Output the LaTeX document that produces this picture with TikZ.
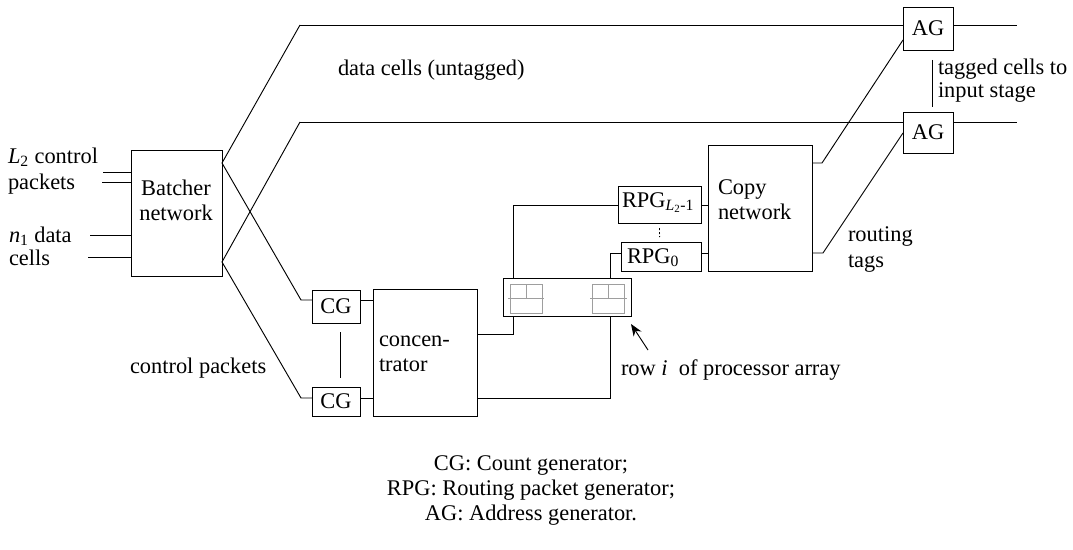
\documentclass[tikz,border=0pt]{standalone}
\usepackage{fontspec}
\setmainfont{Liberation Serif}
\usetikzlibrary{arrows.meta}
\begin{document}
\begin{tikzpicture}[x=0.75pt,y=-0.75pt,
  every node/.style={font=\fontsize{16.8}{18.75}\selectfont, inner sep=0pt, outer sep=0pt},
  box/.style={draw, line width=0.7pt, rectangle},
  lin/.style={line width=0.7pt},
  cell/.style={draw=black!38, line width=0.7pt},
  lbl/.style={anchor=base west}]
\useasboundingbox (0,0) rectangle (1073,549);

% boxes
\node[box, minimum width=68.25pt, minimum height=94.5pt] (bat) at (176.5,213) {};
\node[box, minimum width=36pt, minimum height=24.75pt] (cg1) at (336,306.5) {CG};
\node[box, minimum width=36pt, minimum height=21.75pt] (cg2) at (336,401.5) {CG};
\node[box, minimum width=78pt, minimum height=95.25pt] (conc) at (425,352.5) {};
\node[box, minimum width=96pt, minimum height=28.5pt] (proc) at (567,297) {};
\node[box, minimum width=62.25pt, minimum height=27.75pt] (rpgl) at (659.5,204.5) {};
\node[box, minimum width=60pt, minimum height=21.75pt] (rpg0) at (661,256.5) {};
\node[box, minimum width=78pt, minimum height=94.5pt] (copy) at (760,208) {};
\node[box, minimum width=37.5pt, minimum height=32.25pt] (ag1) at (928,28.5) {AG};
\node[box, minimum width=37.5pt, minimum height=30.75pt] (ag2) at (928,132.5) {AG};

% box texts
\node[align=center] (battxt) at (176,200) {Batcher\\network};
\node[align=left, anchor=west] (cctxt) at (379,354) {concen-\\trator};
\node[align=left, anchor=west] (cptxt) at (718,200) {Copy\\network};
\node[lbl] (rpgltxt) at (622,207) {RPG\textsubscript{\textit{L}\textsubscript{2}-1}};
\node[lbl] (rpg0txt) at (627,263) {RPG\textsubscript{0}};

% processor array cells
\draw[cell] (510,284) rectangle (542,313);
\draw[cell] (508,298) -- (544,298);
\draw[cell] (526,284) -- (526,298);
\draw[cell] (592,284) rectangle (624,313);
\draw[cell] (590,298) -- (627,298);
\draw[cell] (608,284) -- (608,298);

% helper coordinates
\coordinate (in1) at (103,172);
\coordinate (in2) at (102,182);
\coordinate (in3) at (90,235);
\coordinate (in4) at (88,257);
\coordinate (h1) at (0,163);
\coordinate (h2) at (0,262);
\coordinate (t1) at (300,25);
\coordinate (t2) at (300,122);
\coordinate (e1) at (1017,25);
\coordinate (e2) at (1017,122);
\coordinate (k1) at (301,300);
\coordinate (k2) at (301,398);
\coordinate (c1) at (513,334);
\coordinate (c2) at (610,398);
\coordinate (r1) at (513,205);
\coordinate (r2) at (610,253);
\coordinate (o1) at (822,163);
\coordinate (o2) at (823,253);
\coordinate (g1) at (0,40);
\coordinate (g2) at (0,133);
\coordinate (ar) at (648,350);

% inputs
\draw[lin] (in1) -- (in1 -| bat.west);
\draw[lin] (in2) -- (in2 -| bat.west);
\draw[lin] (in3) -- (in3 -| bat.west);
\draw[lin] (in4) -- (in4 -| bat.west);

% batcher outputs
\draw[lin] (t1) -- (bat.east |- h1) -- (k1) -- (k1 -| cg1.west);
\draw[lin] (t2) -- (bat.east |- h2) -- (k2) -- (k2 -| cg2.west);
\draw[lin] (t1) -- (t1 -| ag1.west);
\draw[lin] (ag1.east |- t1) -- (e1);
\draw[lin] (t2) -- (t2 -| ag2.west);
\draw[lin] (ag2.east |- t2) -- (e2);

% CG to concentrator
\draw[lin] (cg1.east |- k1) -- (k1 -| conc.west);
\draw[lin] (cg2.east |- k2) -- (k2 -| conc.west);
\draw[lin] ([xshift=3pt,yshift=-6.75pt]cg1.south) -- ([xshift=3pt,yshift=6.75pt]cg2.north);

% concentrator to processor row
\draw[lin] (conc.east |- c1) -- (c1) -- (c1 |- proc.south);
\draw[lin] (conc.east |- c2) -- (c2) -- (c2 |- proc.south);

% processor row to RPGs
\draw[lin] (r1 |- proc.north) -- (r1) -- (r1 -| rpgl.west);
\draw[lin] (r2 |- proc.north) -- (r2) -- (r2 -| rpg0.west);
\draw[lin] (rpgl.east |- r1) -- (r1 -| copy.west);
\draw[lin] (rpg0.east |- r2) -- (r2 -| copy.west);
\draw[lin, dash pattern=on 1.5pt off 1.5pt] ([yshift=-3.75pt]rpgl.south) -- ([yshift=3.75pt,xshift=-1.1pt]rpg0.north);

% copy network to AGs
\draw[lin] (copy.east |- o1) -- (o1) -- (ag1.west |- g1);
\draw[lin] (copy.east |- o2) -- (o2) -- (ag2.west |- g2);
\draw[lin] ([xshift=3pt,yshift=-7.5pt]ag1.south) -- ([xshift=3pt,yshift=3.75pt]ag2.north);

% arrow
\draw[lin, -{Stealth[length=9pt,width=7pt]}] (ar) -- ([yshift=-6pt]proc.south east);

% labels
\node[lbl] (l2a) at (8,163) {\textit{L}\textsubscript{2} control};
\node[lbl] (l2b) at (8,190) {packets};
\node[lbl] (n1a) at (9,242) {\textit{n}\textsubscript{1} data};
\node[lbl] (n1b) at (9,265) {cells};
\node[lbl] (dc) at (338,76) {data cells (untagged)};
\node[lbl] (cp) at (130,373) {control packets};
\node[lbl] (rowi) at (621,375) {row \textit{i}\ \ of processor array};
\node[lbl] (rt1) at (848,241) {routing};
\node[lbl] (rt2) at (848,267) {tags};
\node[lbl] (tc1) at (938,75) {tagged cells to};
\node[lbl] (tc2) at (938,98) {input stage};

% legend
\node[align=center] (leg) at (531,490) {CG: Count generator;\\RPG: Routing packet generator;\\AG: Address generator.};
\end{tikzpicture}
\end{document}
